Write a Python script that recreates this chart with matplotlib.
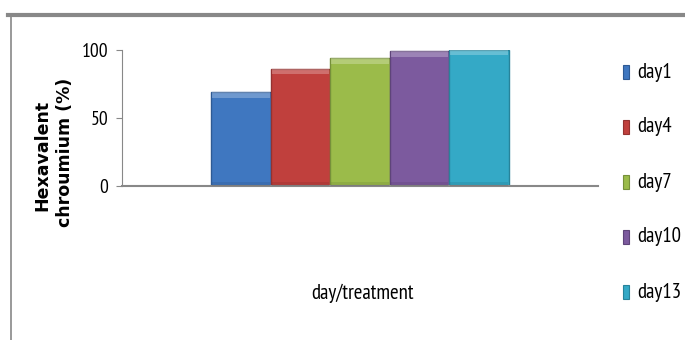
import matplotlib.pyplot as plt
from matplotlib.lines import Line2D

days = ["day1", "day4", "day7", "day10", "day13"]
removal = [69, 86, 94, 99, 100]
colors = ["#3F77C0", "#C0403D", "#9BBB4A", "#7C5A9E", "#34A9C6"]
edges = ["#2E5A94", "#943230", "#76903A", "#5E4479", "#27839A"]
yticks = [0, 50, 100]

plt.rcParams["font.family"] = ["PT Sans Narrow", "DejaVu Sans"]

fig = plt.figure(figsize=(6.85, 3.4), dpi=100)
ax = fig.add_axes([122 / 685, 1 - 186 / 340, 476 / 685, 136 / 340])

# frame lines around the chart area
fig.add_artist(Line2D([8 / 685, 1], [1 - 15 / 340] * 2, color="#888888", lw=3))
fig.add_artist(Line2D([11 / 685] * 2, [0, 1 - 15 / 340], color="#888888", lw=1.2))

width = 59.5 / 476
x0 = 0.5 - 2 * width
for i, (d, v) in enumerate(zip(days, removal)):
    x = x0 + i * width
    ax.bar(x, v, width=width, color=colors[i], edgecolor=edges[i], lw=1.0, zorder=2)
    # lighter bevel along the top of each bar
    ax.bar(x, 4, bottom=v - 4, width=width * 0.97, color="white", alpha=0.25,
           lw=0, zorder=3)
    # darker shade along the bottom
    ax.bar(x, 3, bottom=0, width=width * 0.97, color="black", alpha=0.08,
           lw=0, zorder=3)

ax.set_xlim(0, 1)
ax.set_ylim(0, 100)
ax.set_yticks(yticks)
ax.set_yticklabels([str(t) for t in yticks], fontsize=14)
ax.set_xticks([])
ax.tick_params(axis="y", length=4, color="#888888", pad=6)
for s in ["top", "right"]:
    ax.spines[s].set_visible(False)
ax.spines["left"].set_color("#888888")
ax.spines["bottom"].set_color("#888888")
ax.spines["bottom"].set_linewidth(1.5)

fig.text(362 / 685, 1 - 293 / 340, "day/treatment", fontsize=15,
         ha="center", va="center")
ylab = dict(fontsize=12.5, fontweight="bold", family="DejaVu Sans", color="black",
            rotation=90, ha="center", va="center")
fig.text(42 / 685, 1 - 155 / 340, "Hexavalent", **ylab)
fig.text(65 / 685, 1 - 152 / 340, "chroumium (%)", **ylab)

# legend entries stacked down the right side
for i, d in enumerate(days):
    y = 1 - (72 + i * 55) / 340
    fig.patches.append(plt.Rectangle((623 / 685, y - 7 / 340), 6 / 685, 14 / 340,
                                     transform=fig.transFigure, figure=fig,
                                     facecolor=colors[i], edgecolor=edges[i], lw=0.8))
    fig.text(637 / 685, y, d, fontsize=15, ha="left", va="center")

fig.savefig("out.png", dpi=100)
